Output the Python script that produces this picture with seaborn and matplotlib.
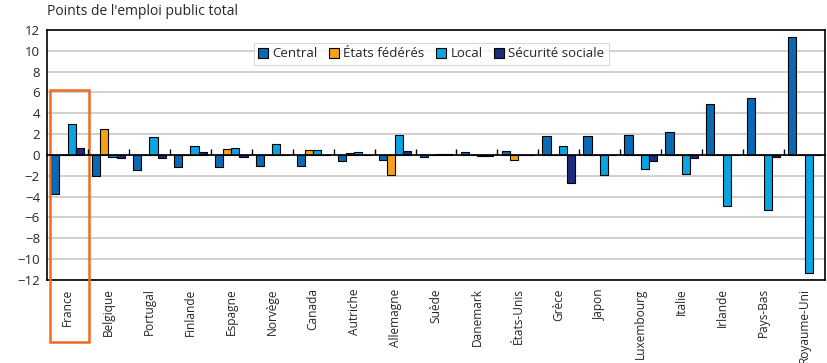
import numpy as np
import pandas as pd
import matplotlib
matplotlib.use("Agg")
import matplotlib.pyplot as plt
import seaborn as sns
from matplotlib.patches import Rectangle

# Chart data
countries = ["France", "Belgique", "Portugal", "Finlande", "Espagne", "Norvège",
             "Canada", "Autriche", "Allemagne", "Suède", "Danemark", "États-Unis",
             "Grèce", "Japon", "Luxembourg", "Italie", "Irlande", "Pays-Bas",
             "Royaume-Uni"]
central = [-3.7, -2.0, -1.4, -1.2, -1.2, -1.1, -1.1, -0.6, -0.5, -0.2, 0.3, 0.4,
           1.8, 1.8, 1.9, 2.2, 4.9, 5.5, 11.3]
etats = [0.0, 2.5, 0.0, 0.0, 0.6, 0.0, 0.5, 0.2, -1.9, 0.0, 0.0, -0.5,
         0.0, 0.0, 0.0, 0.0, 0.0, 0.0, 0.0]
local = [3.0, -0.2, 1.7, 0.9, 0.7, 1.1, 0.5, 0.3, 1.9, 0.1, -0.1, 0.0,
         0.9, -1.9, -1.3, -1.8, -4.9, -5.3, -11.3]
secu = [0.7, -0.3, -0.3, 0.3, -0.2, 0.0, 0.0, 0.0, 0.4, 0.05, -0.1, 0.0,
        -2.7, 0.0, -0.6, -0.3, 0.0, -0.2, 0.0]
series_names = ["Central", "États fédérés", "Local", "Sécurité sociale"]
colors = ["#0A69B3", "#F7A11A", "#0AA4E0", "#1B2C80"]

df = pd.DataFrame({
    "pays": countries * 4,
    "niveau": np.repeat(series_names, len(countries)),
    "valeur": central + etats + local + secu,
})

sns.set_theme(style="white")
plt.rcParams["font.family"] = ["Open Sans", "DejaVu Sans"]

fig = plt.figure(figsize=(8.28, 3.63), dpi=100)
ax = fig.add_axes([0.0568, 0.2287, 0.9396, 0.6887])

sns.barplot(data=df, x="pays", y="valeur", hue="niveau", order=countries,
            hue_order=series_names, palette=colors, saturation=1, width=0.8,
            edgecolor="black", linewidth=0.8, ax=ax)

ax.set_xlim(-0.5, len(countries) - 0.5)
ax.set_ylim(-12, 12)
ax.set_yticks(range(-12, 13, 2))
ax.yaxis.grid(True, color="#C8C8C8", linewidth=1.2)
ax.set_axisbelow(True)
ax.set_xlabel("")
ax.set_ylabel("")
ax.tick_params(axis="y", length=0, labelsize=9.5, pad=5)
ax.tick_params(axis="x", length=0, labelsize=8.6, rotation=90, pad=6)
for sp in ax.spines.values():
    sp.set_visible(True)
    sp.set_color("black")
    sp.set_linewidth(1.2)

# zero line with category tick marks
ax2 = ax.twiny()
ax2.set_xlim(ax.get_xlim())
ax2.xaxis.set_ticks_position("bottom")
ax2.spines["bottom"].set_position(("data", 0))
for name in ["top", "left", "right"]:
    ax2.spines[name].set_visible(False)
ax2.spines["bottom"].set_color("black")
ax2.spines["bottom"].set_linewidth(1.2)
ax2.set_xticks(np.arange(len(countries) - 1) + 0.5)
ax2.tick_params(axis="x", direction="in", length=4, width=1, labelbottom=False,
                labeltop=False, color="black")

leg = ax.legend(loc="upper center", bbox_to_anchor=(0.494, 0.975), ncol=4,
                frameon=True, fancybox=False, fontsize=9.5, handlelength=0.75,
                handleheight=0.75, handletextpad=0.3, columnspacing=0.9,
                borderpad=0.35, title=None)
leg.get_frame().set_edgecolor("#D0D0D0")
leg.get_frame().set_linewidth(0.8)
leg.set_zorder(5)

ax.text(0.0, 1.045, "Points de l'emploi public total", transform=ax.transAxes,
        fontsize=10, ha="left", va="bottom")

# highlight box around France
rect = Rectangle((-0.43, -18.0), 0.95, 24.25, fill=False, edgecolor="#F26B21",
                 linewidth=1.8, clip_on=False, zorder=6)
ax.add_patch(rect)

fig.savefig("out.png", dpi=100)
